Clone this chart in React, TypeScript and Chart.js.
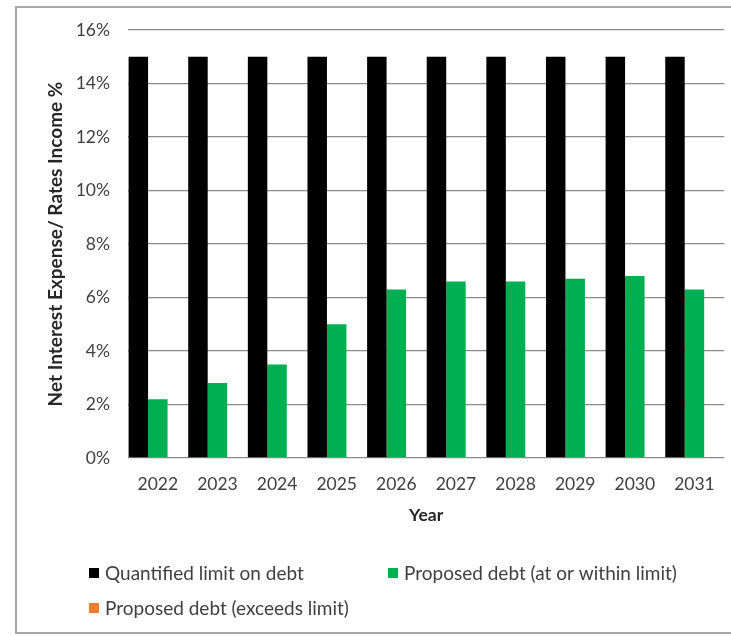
import React, { useEffect, useRef } from 'react';
import { Chart, registerables } from 'chart.js';

Chart.register(...registerables);

const years = ['2022', '2023', '2024', '2025', '2026', '2027', '2028', '2029', '2030', '2031'];
const limitValues = [15, 15, 15, 15, 15, 15, 15, 15, 15, 15];
const withinValues = [2.2, 2.8, 3.5, 5.0, 6.3, 6.6, 6.6, 6.7, 6.8, 6.3];
const exceedsValues = [0, 0, 0, 0, 0, 0, 0, 0, 0, 0];

const seriesLabels = ['Quantified limit on debt', 'Proposed debt (at or within limit)', 'Proposed debt (exceeds limit)'];
const seriesColors = ['#000000', '#00B050', '#ED7D31'];

const yAxisTitle = 'Net Interest Expense/ Rates Income %';
const xAxisTitle = 'Year';

const FONT = 'Lato, "Noto Sans", sans-serif';
const W = 731;
const H = 636;

const framePlugin = {
  id: 'frame',
  beforeDraw(chart: any) {
    const ctx = chart.ctx;
    ctx.save();
    ctx.fillStyle = '#ffffff';
    ctx.fillRect(0, 0, chart.width, chart.height);
    ctx.strokeStyle = '#a6a6a6';
    ctx.lineWidth = 2;
    ctx.strokeRect(16, 7, 800, 626);
    ctx.restore();
  },
};

const legendPlugin = {
  id: 'gridLegend',
  afterDraw(chart: any) {
    const ctx = chart.ctx;
    const cols = [89, 388];
    const rows = [573, 608];
    ctx.save();
    ctx.font = `19px ${FONT}`;
    ctx.textBaseline = 'middle';
    ctx.textAlign = 'left';
    chart.data.datasets.forEach((ds: any, i: number) => {
      const x = cols[i % 2];
      const y = rows[Math.floor(i / 2)];
      ctx.fillStyle = ds.backgroundColor;
      ctx.fillRect(x, y - 5, 10, 10);
      ctx.fillStyle = '#404040';
      ctx.fillText(ds.label, x + 16, y + 1);
    });
    ctx.restore();
  },
};

export default function App() {
  const ref = useRef<HTMLCanvasElement | null>(null);

  useEffect(() => {
    if (!ref.current) return;
    const chart = new Chart(ref.current, {
      type: 'bar',
      data: {
        labels: years,
        datasets: [
          { label: seriesLabels[0], data: limitValues, backgroundColor: seriesColors[0] },
          { label: seriesLabels[1], data: withinValues, backgroundColor: seriesColors[1] },
          { label: seriesLabels[2], data: exceedsValues, backgroundColor: seriesColors[2] },
        ],
      },
      options: {
        animation: false,
        responsive: false,
        devicePixelRatio: 1,
        datasets: {
          bar: { categoryPercentage: 0.98, barPercentage: 1.0, borderWidth: 0 },
        },
        layout: { padding: { left: 16, right: 5, top: 30, bottom: 98 } },
        plugins: {
          legend: { display: false },
          tooltip: { enabled: false },
        },
        scales: {
          x: {
            grid: { display: false, drawTicks: false },
            border: { display: false },
            ticks: { padding: 16, color: '#404040', font: { family: FONT, size: 17.5 } },
            title: {
              display: true,
              text: xAxisTitle,
              color: '#262626',
              font: { family: FONT, size: 17.5, weight: 'bold' },
              padding: { top: 0, bottom: 12 },
            },
            afterFit: (scale: any) => {
              scale.height = 80;
            },
          },
          y: {
            min: 0,
            max: 16,
            ticks: {
              stepSize: 2,
              padding: 18,
              color: '#404040',
              font: { family: FONT, size: 17.5 },
              callback: (v: any) => `${v}%`,
            },
            grid: { color: '#8c8c8c', lineWidth: 1.3, drawTicks: false },
            border: { display: false },
            title: {
              display: true,
              text: yAxisTitle,
              color: '#262626',
              font: { family: FONT, size: 19, weight: 'bold' },
              padding: { top: 28, bottom: 0 },
            },
            afterFit: (scale: any) => {
              scale.width = 112;
            },
          },
        },
      },
      plugins: [framePlugin, legendPlugin],
    } as any);
    return () => chart.destroy();
  }, []);

  return (
    <div style={{ position: 'absolute', left: 0, top: 0, width: W, height: H, background: '#fff' }}>
      <canvas ref={ref} width={W} height={H} style={{ width: W, height: H, display: 'block' }} />
    </div>
  );
}
